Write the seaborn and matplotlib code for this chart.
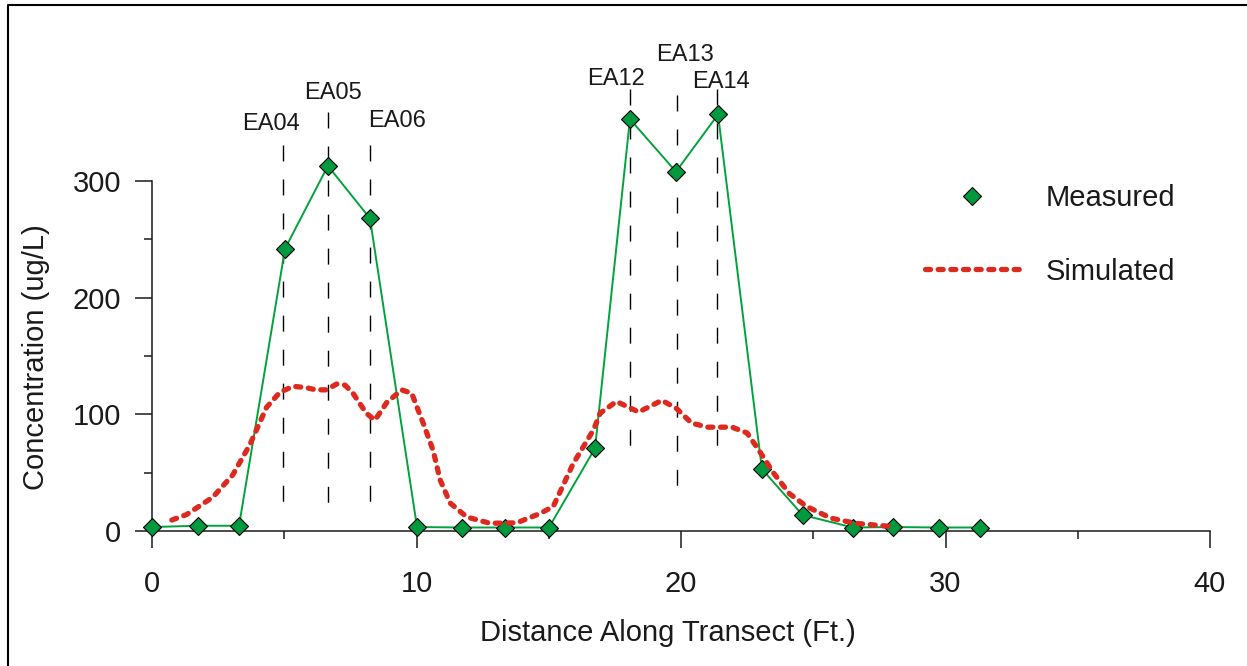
import matplotlib
matplotlib.use("Agg")
import matplotlib.pyplot as plt
from matplotlib.lines import Line2D
import seaborn as sns

# Measured concentrations along the transect
measured_x = [0, 1.74, 3.29, 5.03, 6.65, 8.24, 10.02, 11.72, 13.35, 15.01,
              16.75, 18.07, 19.81, 21.4, 23.06, 24.6, 26.5, 28.0, 29.75, 31.3]
measured_y = [3.4, 4.5, 4.5, 242, 313, 268, 3.4, 3, 3, 3,
              71, 353, 308, 357, 53, 13.7, 3, 3.4, 3, 3]

# Simulated concentration profile
sim_x = [0.75, 1.3, 1.7, 2.3, 3.05, 3.7, 4.33, 4.84, 5.34, 5.8, 6.2, 6.6,
         6.98, 7.3, 7.6, 8.1, 8.43, 8.87, 9.44, 9.82, 10.26, 10.63, 10.89,
         11.27, 11.9, 12.78, 13.79, 14.67, 15.17, 15.93, 16.7, 16.94, 17.56,
         18.4, 19.28, 19.83, 20.4, 21.0, 21.93, 22.5, 22.95, 23.5, 24.1,
         24.75, 25.67, 26.6, 27.87]
sim_y = [9.4, 14, 20, 29, 48, 74, 106, 119, 124, 123, 121, 121,
         126, 125, 118, 101, 95, 110, 121, 118, 92, 69, 44,
         24, 12, 6.6, 7, 15, 21, 58, 87, 101, 111,
         102, 112, 105, 92.5, 89, 89, 84, 69, 49.7, 32,
         21, 11, 6.6, 4]

# Well markers (dashed verticals)
ea_labels = ["EA04", "EA05", "EA06", "EA12", "EA13", "EA14"]
ea_x = [4.95, 6.64, 8.24, 18.07, 19.84, 21.35]
ea_top = [331, 359, 331, 379, 374, 379]
ea_bottom = [14, 14, 14, 63, 29, 63]
ea_label_x = [4.5, 6.84, 9.26, 17.54, 20.15, 21.5]
ea_label_y = [344, 370, 346, 382, 403, 380]

green_line = "#00a33c"
green_fill = "#009a3e"
red = "#dd2a1f"
ink = "#1a1a1a"

sns.set_style("ticks")
plt.rcParams["font.family"] = ["Liberation Sans", "DejaVu Sans"]
plt.rcParams["text.color"] = ink

fig = plt.figure(figsize=(12.47, 6.66), dpi=100)
ax = fig.add_axes([152 / 1247, 135 / 666, 1058 / 1247, 525 / 666])

# dashed well lines
for x, top, bot, lab, lx, ly in zip(ea_x, ea_top, ea_bottom, ea_labels,
                                    ea_label_x, ea_label_y):
    ax.plot([x, x], [top, bot], color="black", lw=1.0,
            linestyle=(0, (11.5, 13)), zorder=2)
    ax.text(lx, ly, lab, ha="center", va="baseline", fontsize=17)

# measured line + markers
sns.lineplot(x=measured_x, y=measured_y, ax=ax, color=green_line, lw=1.4,
             marker="D", markersize=9.5, markerfacecolor=green_fill,
             markeredgecolor="black", markeredgewidth=0.8,
             clip_on=False, zorder=3)

# simulated curve
sns.lineplot(x=sim_x, y=sim_y, ax=ax, color=red, lw=3.8,
             linestyle=(0, (0.95, 1.45)), dash_capstyle="round", zorder=4)

ax.set_xlim(0, 40)
ax.set_ylim(0, 450)
ax.spines["top"].set_visible(False)
ax.spines["right"].set_visible(False)
ax.spines["left"].set_bounds(0, 300)
ax.spines["bottom"].set_bounds(0, 40)
for s in ["left", "bottom"]:
    ax.spines[s].set_linewidth(1.1)
    ax.spines[s].set_color(ink)

ax.set_xticks([0, 10, 20, 30, 40])
ax.set_xticks([5, 15, 25, 35], minor=True)
ax.set_yticks([0, 100, 200, 300])
ax.set_yticks([50, 150, 250], minor=True)
ax.tick_params(which="major", direction="out", length=12, width=1.1,
               labelsize=21, colors=ink)
ax.tick_params(which="minor", direction="out", length=6, width=1.1, colors=ink)
ax.tick_params(axis="y", which="major", pad=10)
ax.tick_params(axis="x", which="major", pad=16)

ax.set_xlabel("Distance Along Transect (Ft.)", fontsize=21, color=ink)
ax.set_ylabel("Concentration (ug/L)", fontsize=21, color=ink)
ax.xaxis.set_label_coords(0.488, -0.168)
ax.yaxis.set_label_coords(-0.096, 0.331)

# legend
handles = [
    Line2D([], [], linestyle="none", marker="D", markersize=9.5,
           markerfacecolor=green_fill, markeredgecolor="black",
           markeredgewidth=0.8),
    Line2D([], [], color=red, lw=3.8, linestyle=(0, (0.95, 1.45)),
           dash_capstyle="round"),
]
fig.legend(handles, ["Measured", "Simulated"], loc="upper left",
           bbox_to_anchor=(925 / 1247, 1 - 184 / 666), frameon=False,
           fontsize=21, handlelength=3.25, handletextpad=0.9,
           labelspacing=1.56, borderpad=0, borderaxespad=0)

# figure frame (top and left edges visible)
fig.add_artist(Line2D([8 / 1247, 8 / 1247, 1.0], [0.0, 1 - 5 / 666, 1 - 5 / 666],
                      transform=fig.transFigure, color="black", lw=1.5))

fig.savefig("out.png", dpi=100)
